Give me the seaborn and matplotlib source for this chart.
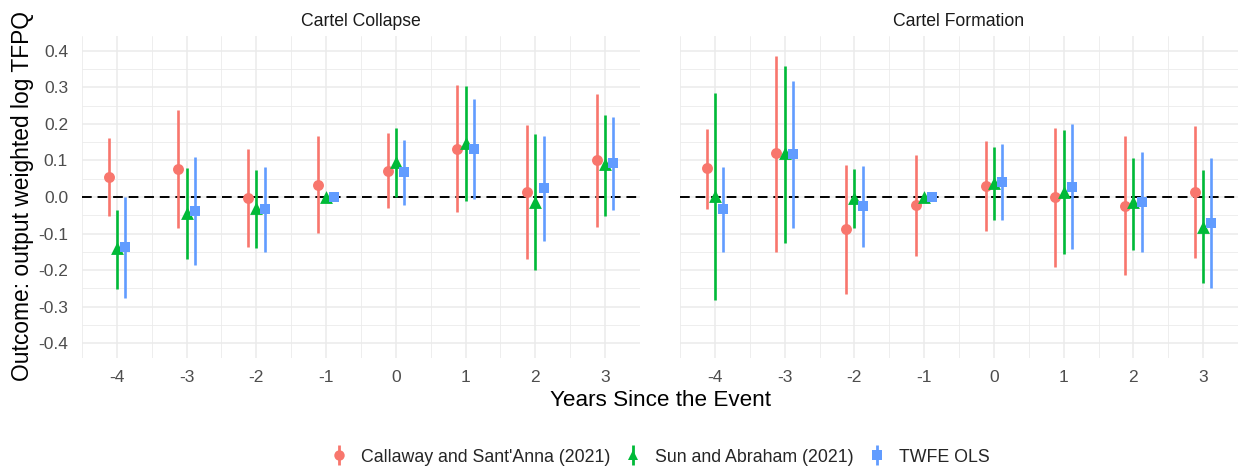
import numpy as np
import pandas as pd
import seaborn as sns
import matplotlib
matplotlib.use("Agg")
import matplotlib.pyplot as plt
from matplotlib.lines import Line2D
from matplotlib.legend_handler import HandlerTuple
from matplotlib.ticker import MultipleLocator

# ---------------- data ----------------
events = [-4, -3, -2, -1, 0, 1, 2, 3]
panels = ["Cartel Collapse", "Cartel Formation"]
methods = ["Callaway and Sant'Anna (2021)", "Sun and Abraham (2021)", "TWFE OLS"]

# Cartel Collapse
col_cs_est = [0.054, 0.076, -0.002, 0.034, 0.072, 0.132, 0.015, 0.101]
col_cs_lo = [-0.053, -0.085, -0.137, -0.099, -0.031, -0.042, -0.170, -0.083]
col_cs_hi = [0.160, 0.237, 0.132, 0.166, 0.175, 0.305, 0.198, 0.282]
col_sa_est = [-0.140, -0.044, -0.031, 0.0, 0.096, 0.148, -0.013, 0.090]
col_sa_lo = [-0.251, -0.170, -0.140, 0.0, 0.001, -0.010, -0.200, -0.051]
col_sa_hi = [-0.035, 0.078, 0.075, 0.0, 0.189, 0.303, 0.171, 0.223]
col_tw_est = [-0.137, -0.037, -0.034, 0.0, 0.067, 0.132, 0.025, 0.093]
col_tw_lo = [-0.276, -0.186, -0.149, 0.0, -0.022, -0.006, -0.119, -0.035]
col_tw_hi = [0.001, 0.110, 0.081, 0.0, 0.155, 0.269, 0.167, 0.219]

# Cartel Formation
for_cs_est = [0.078, 0.119, -0.088, -0.022, 0.031, -0.001, -0.024, 0.013]
for_cs_lo = [-0.034, -0.149, -0.265, -0.160, -0.093, -0.190, -0.212, -0.167]
for_cs_hi = [0.187, 0.386, 0.087, 0.114, 0.153, 0.189, 0.166, 0.193]
for_sa_est = [0.004, 0.119, -0.004, 0.0, 0.037, 0.015, -0.015, -0.081]
for_sa_lo = [-0.282, -0.126, -0.085, 0.0, -0.063, -0.156, -0.144, -0.235]
for_sa_hi = [0.285, 0.359, 0.076, 0.0, 0.137, 0.184, 0.107, 0.075]
for_tw_est = [-0.033, 0.117, -0.024, 0.0, 0.042, 0.028, -0.013, -0.070]
for_tw_lo = [-0.149, -0.085, -0.137, 0.0, -0.064, -0.141, -0.149, -0.248]
for_tw_hi = [0.083, 0.318, 0.085, 0.0, 0.144, 0.199, 0.123, 0.107]

series = {
    ("Cartel Collapse", methods[0]): (col_cs_est, col_cs_lo, col_cs_hi),
    ("Cartel Collapse", methods[1]): (col_sa_est, col_sa_lo, col_sa_hi),
    ("Cartel Collapse", methods[2]): (col_tw_est, col_tw_lo, col_tw_hi),
    ("Cartel Formation", methods[0]): (for_cs_est, for_cs_lo, for_cs_hi),
    ("Cartel Formation", methods[1]): (for_sa_est, for_sa_lo, for_sa_hi),
    ("Cartel Formation", methods[2]): (for_tw_est, for_tw_lo, for_tw_hi),
}

rows = []
for (panel, m), (est, lo, hi) in series.items():
    for e, v, l, h in zip(events, est, lo, hi):
        rows.append(dict(panel=panel, method=m, event=e, est=v, lo=l, hi=h))
df = pd.DataFrame(rows)

# ---------------- style ----------------
sns.set_theme(style="white")
plt.rcParams["font.family"] = ["Liberation Sans", "DejaVu Sans"]

colors = {methods[0]: "#F8766D", methods[1]: "#00BA38", methods[2]: "#619CFF"}
markers = {methods[0]: "o", methods[1]: "^", methods[2]: "s"}
msizes = {methods[0]: 62, methods[1]: 85, methods[2]: 55}
offsets = {methods[0]: -0.12, methods[1]: 0.0, methods[2]: 0.12}
df["xpos"] = df["event"] + df["method"].map(offsets)

fig = plt.figure(figsize=(12.39, 4.68), dpi=100)
W, H = 1239, 468
top, bot = 36, 358
axes = [
    fig.add_axes([82 / W, 1 - bot / H, (640 - 82) / W, (bot - top) / H]),
    fig.add_axes([680 / W, 1 - bot / H, (1238 - 680) / W, (bot - top) / H]),
]

grid_c = "#EBEBEB"
for i, (ax, panel) in enumerate(zip(axes, panels)):
    sub = df[df["panel"] == panel]
    ax.set_xlim(-4.5, 3.5)
    ax.set_ylim(-0.44, 0.44)
    ax.xaxis.set_major_locator(MultipleLocator(1))
    ax.xaxis.set_minor_locator(MultipleLocator(0.5))
    ax.yaxis.set_major_locator(MultipleLocator(0.1))
    ax.yaxis.set_minor_locator(MultipleLocator(0.05))
    ax.grid(which="major", color=grid_c, linewidth=1.1, zorder=0)
    ax.grid(which="minor", color=grid_c, linewidth=0.6, zorder=0)
    ax.set_axisbelow(True)
    for s in ax.spines.values():
        s.set_visible(False)
    ax.tick_params(which="both", length=0, labelsize=12.5, colors="#4D4D4D")
    ax.tick_params(axis="y", pad=10)
    ax.tick_params(axis="x", pad=9)
    ax.axhline(0, color="black", linestyle=(0, (5, 3)), linewidth=1.4, zorder=1)
    for m in methods:
        sm = sub[sub["method"] == m]
        ax.vlines(sm["xpos"], sm["lo"], sm["hi"], color=colors[m], linewidth=1.9, zorder=2)
        sns.scatterplot(data=sm, x="xpos", y="est", color=colors[m],
                        marker=markers[m], s=msizes[m], linewidth=0,
                        legend=False, ax=ax, zorder=3)
    ax.set_xticks(events)
    ax.set_xticklabels([str(e) for e in events])
    ax.set_xlabel("")
    ax.set_ylabel("")
    if i == 1:
        ax.tick_params(axis="y", labelleft=False)
    else:
        ax.set_yticklabels([f"{v:.1f}" for v in np.round(ax.get_yticks(), 1)])
    ax.set_title(panel, fontsize=12.7, color="#1A1A1A", pad=7)

fig.text(23 / W, 1 - 196 / H, "Outcome: output weighted log TFPQ", rotation=90,
         ha="center", va="center", fontsize=16.4, color="black")
fig.text(660 / W, 1 - 401 / H,
         "Years Since the Event", ha="center", va="center", fontsize=16.2, color="black")

handles = []
for m in methods:
    vline = Line2D([], [], marker="|", markersize=14, markeredgewidth=2,
                   color=colors[m], linestyle="")
    pt = Line2D([], [], marker=markers[m], markersize=7.5, color=colors[m],
                markeredgewidth=0, linestyle="")
    handles.append((vline, pt))
fig.legend(handles, methods, handler_map={tuple: HandlerTuple(ndivide=1)},
           loc="center", bbox_to_anchor=(660 / W, 1 - 457 / H), ncol=3,
           frameon=False, fontsize=12.8, handlelength=1.0, handletextpad=0.74,
           columnspacing=0.79)

fig.savefig("out.png", dpi=100)
